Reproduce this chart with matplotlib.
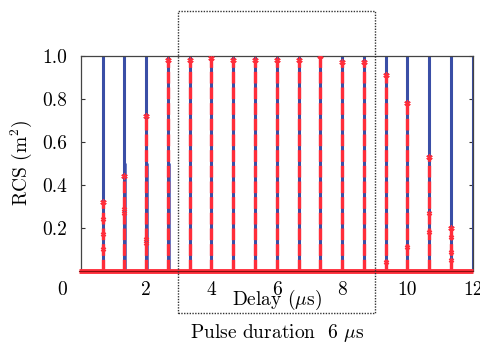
import matplotlib
matplotlib.use('Agg')
import matplotlib.pyplot as plt
from matplotlib.patches import Rectangle

plt.rcParams['font.family'] = ['cmr10', 'DejaVu Serif']
plt.rcParams['mathtext.fontset'] = 'cm'
plt.rcParams['axes.unicode_minus'] = False

# pulse delays (us) and peak RCS values
delays = [0.67, 1.33, 2.0, 2.67, 3.33, 4.0, 4.67, 5.33, 6.0, 6.67, 7.33, 8.0,
          8.67, 9.33, 10.0, 10.67, 11.33, 12.0]
blue_rcs = [1.0] * 18
red_rcs = [0.32, 0.44, 0.72, 0.98, 0.98, 0.99, 0.98, 0.98, 0.98, 0.98, 1.0,
           0.97, 0.97, 0.91, 0.78, 0.53, 0.20]
blue_low = [0.5, 0.5, 0.5, 0.5]

# extra marker points on the red curves (delay, rcs)
mark_x = [0.67, 0.67, 0.67, 1.33, 1.33, 2.0, 2.0, 9.33, 10.0, 10.67, 10.67,
          11.33, 11.33, 11.33]
mark_y = [0.10, 0.17, 0.24, 0.27, 0.29, 0.13, 0.15, 0.04, 0.11, 0.18, 0.27,
          0.05, 0.09, 0.16]

blue = '#3a4ea6'
red = '#ff2d3a'
fs = 14

fig = plt.figure(figsize=(4.81, 3.45), dpi=100)
ax = fig.add_axes([0.168, 0.2145, 0.815, 0.6235])

for x, h in zip(delays, blue_rcs):
    ax.plot([x, x], [0, h], color=blue, lw=2.2, zorder=2, solid_capstyle='butt')
for x, h in zip(delays[:4], blue_low):
    ax.plot([x + 0.02, x + 0.02], [0, h], color='#5a6cc0', lw=2.0, zorder=1,
            solid_capstyle='butt')
for x, h in zip(delays, red_rcs):
    ax.plot([x, x], [0, h], color=red, lw=2.4, zorder=3,
            dashes=(3.5, 1.2), dash_capstyle='butt')
    ax.plot([x], [h], marker=(6, 2, 0), color=red, ms=4.5, mew=1.0, zorder=4)
ax.plot(mark_x, mark_y, ls='none', marker=(6, 2, 0), color=red, ms=4, mew=0.9, zorder=4)

ax.plot([-0.06, 12], [0, 0], color=red, lw=3.5, zorder=5, clip_on=False,
        solid_capstyle='butt')
ax.plot([-0.06, 12], [0, 0], color='#8a1010', lw=0.8, zorder=6, clip_on=False)

ax.set_xlim(0, 12)
ax.set_ylim(0, 1.0)
ax.set_xticks([2, 4, 6, 8, 10, 12])
ax.set_yticks([0.2, 0.4, 0.6, 0.8, 1.0])
ax.set_yticklabels(['0.2', '0.4', '0.6', '0.8', '1.0'])
ax.tick_params(direction='in', length=3, width=0.8, labelsize=fs, pad=10,
               right=True, top=False, colors='#333333', labelcolor='black')
ax.tick_params(axis='x', pad=7, length=0)
for s in ax.spines.values():
    s.set_color('#444444')
    s.set_linewidth(0.9)
ax.spines['bottom'].set_visible(False)

ax.text(-0.58, -0.088, '0', fontsize=fs, ha='center', va='center', clip_on=False)
ax.text(6.0, -0.135, r'Delay ($\mu$s)', fontsize=fs, ha='center', va='center')
ax.text(6.0, -0.29, r'Pulse duration  6 $\mu$s', fontsize=fs, ha='center', va='center')
ax.set_ylabel('RCS (m$^2$)', fontsize=fs, labelpad=6)

box = Rectangle((2.97, -0.195), 6.03, 1.405, fill=False, ls=(0, (1, 1)),
                lw=1.0, ec='#333333', clip_on=False, zorder=7)
ax.add_patch(box)

fig.savefig('out.png', dpi=100)
